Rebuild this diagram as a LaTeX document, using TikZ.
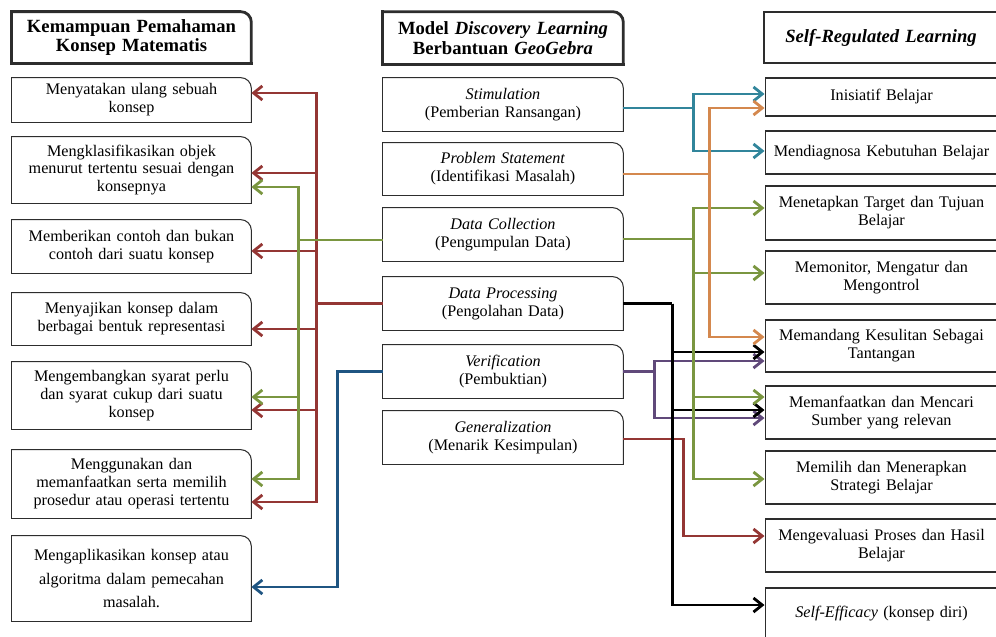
\documentclass[tikz,border=0pt]{standalone}
\usepackage{fontspec}
\setmainfont{Liberation Serif}
\usetikzlibrary{arrows.meta,calc}
\definecolor{merah}{RGB}{148,54,52}
\definecolor{hijau}{RGB}{122,150,64}
\definecolor{tosca}{RGB}{49,133,155}
\definecolor{jingga}{RGB}{212,136,78}
\definecolor{biru}{RGB}{31,85,130}
\definecolor{ungu}{RGB}{96,73,122}
\definecolor{bingkai}{RGB}{45,45,45}
% kotak dengan satu sudut bulat (kanan atas)
\newcommand{\kotakbulat}[2][0.6pt]{%
  \draw[bingkai,line width=#1,line cap=rect,rounded corners=6pt] (#2.north west) -- (#2.north east) -- (#2.south east);
  \draw[bingkai,line width=#1,line cap=rect] (#2.south east) -- (#2.south west) -- (#2.north west);}
\begin{document}
\begin{tikzpicture}[x=0.02cm,y=-0.02cm,>={Straight Barb[length=5pt,width=8pt]},
    isi/.style={inner sep=0pt,align=center,font=\fontsize{9.2}{10.2}\selectfont},
    kiri/.style={isi,minimum width=4.78cm,text width=4.6cm},
    tengah/.style={isi,minimum width=4.8cm,text width=4.6cm},
    kanan/.style={isi,draw=bingkai,line width=0.6pt,minimum width=4.66cm,text width=4.5cm},
    judul/.style={font=\fontsize{10.6}{11}\selectfont\bfseries},
    garis/.style={line width=1.6pt}]
\useasboundingbox (0,0) rectangle (996,636);
% kolom kiri
\node[kiri,judul,minimum height=1.02cm] (lt) at (131.5,37.5) {Kemampuan Pemahaman\\Konsep Matematis};
\node[kiri,minimum height=0.88cm] (l1) at (131.5,100) {Menyatakan ulang sebuah\\konsep};
\node[kiri,minimum height=1.32cm] (l2) at (131.5,170) {Mengklasifikasikan objek\\menurut tertentu sesuai dengan\\konsepnya};
\node[kiri,minimum height=1.06cm] (l3) at (131.5,246.5) {Memberikan contoh dan bukan\\contoh dari suatu konsep};
\node[kiri,minimum height=1.04cm] (l4) at (131.5,319) {Menyajikan konsep dalam\\berbagai bentuk representasi};
\node[kiri,minimum height=1.34cm] (l5) at (131.5,395.5) {Mengembangkan syarat perlu\\dan syarat cukup dari suatu\\konsep};
\node[kiri,minimum height=1.36cm] (l6) at (131.5,484) {Menggunakan dan\\memanfaatkan serta memilih\\prosedur atau operasi tertentu};
\node[kiri,minimum height=1.70cm,font=\fontsize{9.2}{13.6}\selectfont] (l7) at (131.5,578.5) {Mengaplikasikan konsep atau\\algoritma dalam pemecahan\\masalah.};
% kolom tengah
\node[tengah,judul,minimum height=1.04cm] (mt) at (503,38) {Model \textit{Discovery Learning}\\Berbantuan \textit{GeoGebra}};
\node[tengah,minimum height=1.06cm] (m1) at (503,104.5) {\textit{Stimulation}\\(Pemberian Ransangan)};
\node[tengah,minimum height=1.04cm] (m2) at (503,169) {\textit{Problem Statement}\\(Identifikasi Masalah)};
\node[tengah,minimum height=1.06cm] (m3) at (503,234.5) {\textit{Data Collection}\\(Pengumpulan Data)};
\node[tengah,minimum height=1.06cm] (m4) at (503,303.5) {\textit{Data Processing}\\(Pengolahan Data)};
\node[tengah,minimum height=1.06cm] (m5) at (503,371.5) {\textit{Verification}\\(Pembuktian)};
\node[tengah,minimum height=1.06cm] (m6) at (503,437.5) {\textit{Generalization}\\(Menarik Kesimpulan)};
\foreach \n in {l1,l2,l3,l4,l5,l6,l7,m1,m2,m3,m4,m5,m6} {\kotakbulat{\n}}
\kotakbulat[1.6pt]{lt}
\kotakbulat[1.6pt]{mt}
% kolom kanan
\node[kanan,judul,line width=1.6pt,minimum height=1.02cm,minimum width=4.68cm] (rt) at (881,37.5) {\textit{Self-Regulated Learning}};
\node[kanan,minimum height=0.76cm] (r1) at (881.5,97) {Inisiatif Belajar};
\node[kanan,minimum height=0.86cm] (r2) at (881.5,152.5) {Mendiagnosa Kebutuhan Belajar};
\node[kanan,minimum height=1.08cm] (r3) at (881.5,213) {Menetapkan Target dan Tujuan\\Belajar};
\node[kanan,minimum height=1.06cm] (r4) at (881.5,277.5) {Memonitor, Mengatur dan\\Mengontrol};
\node[kanan,minimum height=1.04cm] (r5) at (881.5,346) {Memandang Kesulitan Sebagai\\Tantangan};
\node[kanan,minimum height=1.06cm] (r6) at (881.5,412.5) {Memanfaatkan dan Mencari\\Sumber yang relevan};
\node[kanan,minimum height=1.06cm] (r7) at (881.5,477.5) {Memilih dan Menerapkan\\Strategi Belajar};
\node[kanan,minimum height=1.06cm] (r8) at (881.5,545.5) {Mengevaluasi Proses dan Hasil\\Belajar};
\node[kanan,minimum height=1.04cm] (r9) at (881.5,614) {\textit{Self-Efficacy} (konsep diri)};
% panah ke kiri
\coordinate (jm) at ($(m4.west)+(-66,0)$);
\draw[garis,merah] (m4.west) -- (jm);
\foreach \n/\d in {l1/-7,l2/3,l3/4.5,l4/10,l5/14.5,l6/18}
  \draw[garis,merah,<-] ($(\n.east)+(0,\d)$) -| (jm);
\coordinate (jh) at ($(m3.west)+(-84,5.5)$);
\draw[garis,hijau] ($(m3.west)+(0,5.5)$) -- (jh);
\foreach \n/\d in {l2/17,l5/1.5,l6/-5}
  \draw[garis,hijau,<-] ($(\n.east)+(0,\d)$) -| (jh);
\coordinate (jb) at ($(m5.west)+(-45,0)$);
\draw[garis,biru,<-] ($(l7.east)+(0,8.5)$) -| (jb) -- (m5.west);
% panah ke kanan
\coordinate (ju) at ($(m5.east)+(31,0)$);
\draw[garis,ungu] (m5.east) -- (ju);
\foreach \n/\d in {r5/15,r6/5.5}
  \draw[garis,ungu,->] (ju) |- ($(\n.west)+(0,\d)$);
\coordinate (jr) at ($(m6.east)+(60,1.5)$);
\draw[garis,merah,->] ($(m6.east)+(0,1.5)$) -- (jr) |- ($(r8.west)+(0,-9.5)$);
\coordinate (jk) at ($(m4.east)+(49,0)$);
\draw[garis,black] (m4.east) -- (jk);
\foreach \n/\d in {r5/6,r6/-2.5,r9/-9}
  \draw[garis,black,->] (jk) |- ($(\n.west)+(0,\d)$);
\coordinate (jt) at ($(m1.east)+(70,3.5)$);
\draw[garis,tosca] ($(m1.east)+(0,3.5)$) -- (jt);
\foreach \n/\d in {r1/-3,r2/-1.5}
  \draw[garis,tosca,->] (jt) |- ($(\n.west)+(0,\d)$);
\coordinate (jg) at ($(m3.east)+(70,4.5)$);
\draw[garis,hijau] ($(m3.east)+(0,4.5)$) -- (jg);
\foreach \n/\d in {r3/-5,r4/-4.5,r6/-15.5,r7/1.5}
  \draw[garis,hijau,->] (jg) |- ($(\n.west)+(0,\d)$);
\coordinate (jj) at ($(m2.east)+(86,5)$);
\draw[garis,jingga] ($(m2.east)+(0,5)$) -- (jj);
\foreach \n/\d in {r1/11,r5/-9}
  \draw[garis,jingga,->] (jj) |- ($(\n.west)+(0,\d)$);
\end{tikzpicture}
\end{document}
